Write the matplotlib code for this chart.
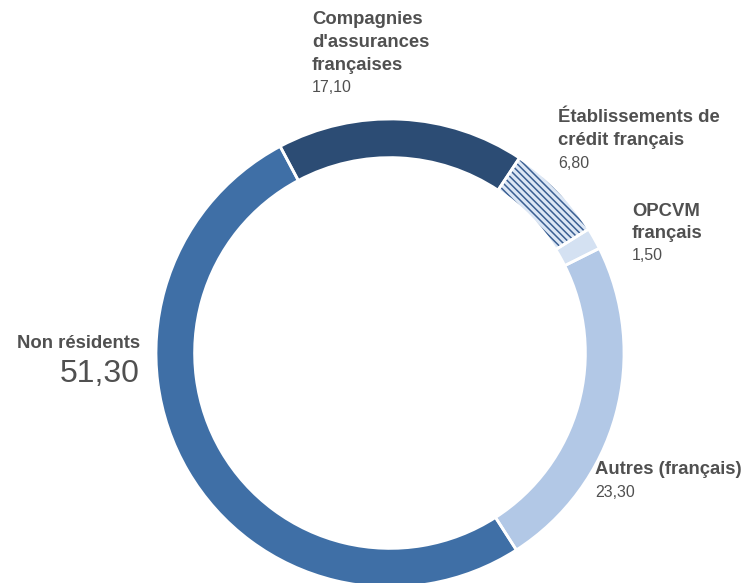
import numpy as np
import matplotlib
matplotlib.use("Agg")
import matplotlib.pyplot as plt

labels = [["Compagnies", "d'assurances", "françaises"], ["Établissements de", "crédit français"],
          ["OPCVM", "français"], ["Autres (français)"], ["Non résidents"]]
values = [17.10, 6.80, 1.50, 23.30, 51.30]
value_text = ["17,10", "6,80", "1,50", "23,30", "51,30"]
colors = ["#2c4c74", "#dce7f5", "#d4e1f2", "#b2c8e6", "#3f6fa6"]
hatches = [None, "\\" * 5, None, None, None]

plt.rcParams["font.family"] = ["Liberation Sans", "DejaVu Sans"]
plt.rcParams["hatch.linewidth"] = 1.1

W, H = 752, 583
fig = plt.figure(figsize=(W / 100, H / 100), dpi=100, facecolor="white")
ax = fig.add_axes([0, 0, 1, 1])

cx, cy, r = 390, 353, 234
ring = 0.165

wedges, _ = ax.pie(values, colors=colors, startangle=118, counterclock=False,
                   radius=1, wedgeprops=dict(width=ring, linewidth=0, edgecolor="#3a5f92"))
for w, h in zip(wedges, hatches):
    if h:
        w.set_hatch(h)
# white separators
ax.pie(values, colors=["none"] * len(values), startangle=118, counterclock=False,
       radius=1, wedgeprops=dict(width=ring, linewidth=2, edgecolor="white", fill=False))

ax.set_xlim(-cx / r, (W - cx) / r)
ax.set_ylim(-(H - cy) / r, cy / r)
ax.set_aspect("auto")
ax.axis("off")

txt = "#505050"


def put(x, y, s, **kw):
    fig.text(x / W, 1 - y / H, s, color=txt, va="center", **kw)


# label blocks: x, y of first line, alignment
blocks = [(312, 20, "left"), (558, 118, "left"), (632, 211, "left"),
          (595, 470, "left"), (140, 343, "right")]
pitch = 22.5
for (x, y0, ha), lines, vt in zip(blocks, labels, value_text):
    for i, line in enumerate(lines):
        put(x, y0 + i * pitch, line, fontsize=13.3, fontweight="bold", ha=ha)
    if vt == "51,30":
        put(x, y0 + 31, vt, fontsize=23, ha=ha)
    else:
        put(x, y0 + len(lines) * pitch, vt, fontsize=11.5, ha=ha)

fig.savefig("out.png", dpi=100, facecolor="white")
